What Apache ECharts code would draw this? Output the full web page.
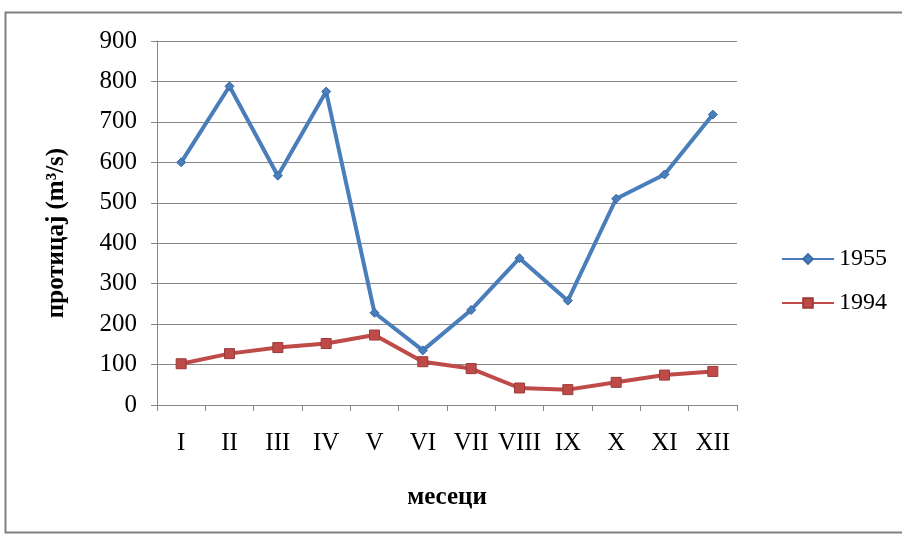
<!DOCTYPE html>
<html><head><meta charset="utf-8">
<script src="https://cdn.jsdelivr.net/npm/echarts@6/dist/echarts.min.js"></script>
<style>html,body{margin:0;padding:0;background:#fff}#c{width:902px;height:536px}</style>
</head><body><div id="c"></div>
<script>
const months = ['I','II','III','IV','V','VI','VII','VIII','IX','X','XI','XII'];
const s1955 = [600, 788, 567, 775, 228, 135, 235, 363, 258, 510, 570, 718];
const s1994 = [102, 127, 142, 152, 173, 107, 90, 42, 38, 56, 74, 83];
const yTicks = {min: 0, max: 900, interval: 100};

const chart = echarts.init(document.getElementById('c'));
const font = 'Liberation Serif, Times New Roman, serif';
chart.setOption({
  backgroundColor: '#fff',
  animation: false,
  textStyle: {fontFamily: font},
  graphic: [{
    type: 'rect', shape: {x: 5.5, y: 12.5, width: 900, height: 520},
    style: {fill: 'none', stroke: '#808080', lineWidth: 2}, silent: true
  }],
  grid: {left: 157, right: 165, top: 41, bottom: 131},
  legend: {
    orient: 'vertical', left: 776, top: 242, itemGap: 20,
    itemWidth: 52, itemHeight: 12,
    textStyle: {fontFamily: font, fontSize: 24, color: '#000'},
    data: ['1955', '1994']
  },
  xAxis: {
    type: 'category', data: months, boundaryGap: true,
    name: 'месеци', nameLocation: 'middle', nameGap: 80,
    nameTextStyle: {fontFamily: font, fontSize: 25, fontWeight: 'bold', color: '#000'},
    axisLine: {lineStyle: {color: '#868686', width: 1}},
    axisTick: {show: true, length: 6, lineStyle: {color: '#868686'}},
    axisLabel: {fontFamily: font, fontSize: 25, color: '#000', margin: 26, interval: 0}
  },
  yAxis: {
    type: 'value', min: yTicks.min, max: yTicks.max, interval: yTicks.interval,
    name: 'протицај (m³/s)', nameLocation: 'middle', nameGap: 88,
    nameTextStyle: {fontFamily: font, fontSize: 25, fontWeight: 'bold', color: '#000', padding: [0, 20, 0, 0]},
    axisLine: {show: true, lineStyle: {color: '#868686', width: 1}},
    axisTick: {show: true, length: 6, lineStyle: {color: '#868686'}},
    axisLabel: {fontFamily: font, fontSize: 25, color: '#000', margin: 20},
    splitLine: {lineStyle: {color: '#868686', width: 1}}
  },
  series: [
    {name: '1955', type: 'line', data: s1955, color: '#4a7ebb',
     lineStyle: {width: 4, color: '#4a7ebb'},
     symbol: 'diamond', symbolSize: 9,
     itemStyle: {color: '#4a7ebb', borderColor: '#3a6aa5', borderWidth: 1}},
    {name: '1994', type: 'line', data: s1994, color: '#be4b48',
     lineStyle: {width: 4, color: '#be4b48'},
     symbol: 'rect', symbolSize: 10,
     itemStyle: {color: '#be4b48', borderColor: '#9c3a38', borderWidth: 1}}
  ]
});
</script></body></html>
